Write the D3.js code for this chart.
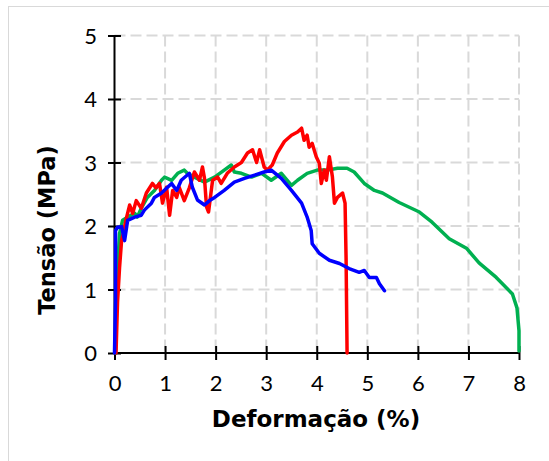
<!DOCTYPE html>
<html>
<head>
<meta charset="utf-8">
<script src="https://cdn.jsdelivr.net/npm/d3@7"></script>
<style>
  body { margin: 0; background: #fff; }
  .tick-label { font-family: "Lato", "DejaVu Sans", sans-serif; font-size: 22px; fill: #000; }
  .axis-title { font-family: "DejaVu Sans", sans-serif; font-size: 23px; font-weight: bold; fill: #000; }
</style>
</head>
<body>
<div id="chart"></div>
<script>
var xTicks = [0, 1, 2, 3, 4, 5, 6, 7, 8];
var yTicks = [0, 1, 2, 3, 4, 5];

// deformation (%) / stress (MPa)
var redX = [0.03, 0.06, 0.1, 0.14, 0.24, 0.3, 0.36, 0.43, 0.53, 0.63, 0.75, 0.82, 0.89, 0.95, 1.03, 1.09, 1.15, 1.23, 1.28, 1.38, 1.48, 1.58, 1.68, 1.74, 1.78, 1.82, 1.86, 1.94, 2.04, 2.11, 2.23, 2.37, 2.51, 2.63, 2.73, 2.81, 2.87, 2.96, 3.02, 3.12, 3.22, 3.36, 3.5, 3.62, 3.7, 3.75, 3.81, 3.85, 3.91, 3.99, 4.05, 4.09, 4.15, 4.19, 4.25, 4.31, 4.35, 4.41, 4.51, 4.56, 4.58, 4.6];
var redY = [0, 0.8, 1.35, 1.77, 2.14, 2.33, 2.2, 2.4, 2.28, 2.52, 2.67, 2.6, 2.67, 2.36, 2.61, 2.17, 2.56, 2.45, 2.61, 2.4, 2.6, 2.85, 2.72, 2.93, 2.75, 2.3, 2.22, 2.72, 2.77, 2.67, 2.83, 2.93, 3.0, 3.15, 3.2, 3.0, 3.2, 2.93, 2.88, 2.96, 3.15, 3.33, 3.43, 3.48, 3.54, 3.35, 3.43, 3.24, 3.3, 3.09, 2.99, 2.67, 2.88, 2.72, 3.09, 2.77, 2.36, 2.45, 2.52, 2.36, 1.5, 0];

var greenX = [0.02, 0.05, 0.1, 0.16, 0.26, 0.4, 0.45, 0.53, 0.65, 0.79, 0.93, 0.99, 1.13, 1.25, 1.38, 1.44, 1.58, 1.78, 1.98, 2.17, 2.31, 2.37, 2.51, 2.71, 2.91, 3.1, 3.3, 3.5, 3.62, 3.81, 4.01, 4.21, 4.41, 4.6, 4.74, 4.94, 5.14, 5.3, 5.63, 6.03, 6.28, 6.62, 6.96, 7.21, 7.55, 7.87, 7.96, 8.0, 8.0];
var greenY = [0, 1.2, 1.88, 2.09, 2.14, 2.2, 2.14, 2.28, 2.45, 2.56, 2.72, 2.77, 2.72, 2.83, 2.88, 2.83, 2.77, 2.69, 2.77, 2.88, 2.96, 2.85, 2.83, 2.77, 2.83, 2.72, 2.83, 2.64, 2.72, 2.83, 2.88, 2.88, 2.91, 2.91, 2.85, 2.67, 2.56, 2.52, 2.37, 2.22, 2.06, 1.8, 1.65, 1.42, 1.19, 0.93, 0.71, 0.35, 0.03];

var blueX = [0, 0.02, 0.02, 0.06, 0.14, 0.2, 0.26, 0.4, 0.53, 0.59, 0.73, 0.79, 0.93, 1.05, 1.13, 1.23, 1.32, 1.48, 1.54, 1.64, 1.78, 1.88, 1.98, 2.17, 2.37, 2.57, 2.77, 2.96, 3.1, 3.3, 3.5, 3.7, 3.81, 3.89, 3.91, 4.05, 4.25, 4.45, 4.64, 4.84, 4.94, 5.04, 5.18, 5.24, 5.34];
var blueY = [0, 0.82, 1.93, 1.98, 1.99, 1.77, 2.09, 2.14, 2.17, 2.25, 2.36, 2.45, 2.52, 2.61, 2.67, 2.56, 2.72, 2.83, 2.61, 2.41, 2.33, 2.4, 2.45, 2.56, 2.69, 2.75, 2.8, 2.85, 2.88, 2.75, 2.56, 2.36, 2.14, 1.93, 1.72, 1.57, 1.46, 1.41, 1.33, 1.27, 1.3, 1.19, 1.19, 1.09, 0.98];

var series = [
  { xs: greenX, ys: greenY, color: "#00b050" },
  { xs: redX, ys: redY, color: "#ff0000" },
  { xs: blueX, ys: blueY, color: "#0000ff" }
];

var svg = d3.select("#chart").append("svg")
  .attr("width", 549)
  .attr("height", 461);

// outer frame
svg.append("rect")
  .attr("x", 8.5).attr("y", 6.5)
  .attr("width", 600).attr("height", 600)
  .attr("fill", "none")
  .attr("stroke", "#d9d9d9")
  .attr("stroke-width", 1);

var x = d3.scaleLinear().domain([0, 8]).range([114.5, 519]);
var y = d3.scaleLinear().domain([0, 5]).range([353, 35.5]);

// gridlines
svg.append("g").selectAll("line")
  .data(xTicks.slice(1))
  .enter().append("line")
    .attr("x1", function(d) { return x(d); })
    .attr("x2", function(d) { return x(d); })
    .attr("y1", y(5))
    .attr("y2", y(0))
    .attr("stroke", "#d9d9d9")
    .attr("stroke-width", 2)
    .attr("stroke-dasharray", "11,5");

svg.append("g").selectAll("line")
  .data(yTicks.slice(1))
  .enter().append("line")
    .attr("x1", x(0))
    .attr("x2", x(8))
    .attr("y1", function(d) { return y(d); })
    .attr("y2", function(d) { return y(d); })
    .attr("stroke", "#d9d9d9")
    .attr("stroke-width", 2)
    .attr("stroke-dasharray", "11,5");

// axes
var xAxis = d3.axisBottom(x).tickValues(xTicks).tickFormat(d3.format("d"))
  .tickSizeInner(14).tickSizeOuter(0);
var gx = svg.append("g")
  .attr("transform", "translate(0," + (y(0) - 7) + ")")
  .call(xAxis);
gx.select(".domain").remove();
gx.attr("font-size", null).attr("font-family", null);
gx.selectAll(".tick line").attr("stroke", "#000").attr("stroke-width", 2);
gx.selectAll(".tick text").attr("class", "tick-label").attr("y", 45).attr("dy", null);

var yAxis = d3.axisLeft(y).tickValues(yTicks).tickFormat(d3.format("d"))
  .tickSizeInner(13).tickSizeOuter(0);
var gy = svg.append("g")
  .attr("transform", "translate(" + (x(0) + 6.5) + ",0)")
  .call(yAxis);
gy.select(".domain").remove();
gy.attr("font-size", null).attr("font-family", null);
gy.selectAll(".tick line").attr("stroke", "#000").attr("stroke-width", 2);
gy.selectAll(".tick text").attr("class", "tick-label").attr("x", -24).attr("dy", "0.36em");

svg.append("line")
  .attr("x1", x(0)).attr("x2", x(8))
  .attr("y1", y(0)).attr("y2", y(0))
  .attr("stroke", "#000").attr("stroke-width", 2);
svg.append("line")
  .attr("x1", x(0)).attr("x2", x(0))
  .attr("y1", y(5)).attr("y2", y(0))
  .attr("stroke", "#000").attr("stroke-width", 2);

// curves
var line = d3.line()
  .x(function(d) { return x(d[0]); })
  .y(function(d) { return y(d[1]); });

series.forEach(function(s) {
  var pts = s.xs.map(function(v, i) { return [v, s.ys[i]]; });
  svg.append("path")
    .attr("d", line(pts))
    .attr("fill", "none")
    .attr("stroke", s.color)
    .attr("stroke-width", 3.5)
    .attr("stroke-linejoin", "round")
    .attr("stroke-linecap", "round");
});

// axis titles
svg.append("text")
  .attr("class", "axis-title")
  .attr("x", 316)
  .attr("y", 427)
  .attr("text-anchor", "middle")
  .text("Deformação (%)");

svg.append("text")
  .attr("class", "axis-title")
  .attr("transform", "translate(55,230) rotate(-90)")
  .attr("text-anchor", "middle")
  .style("font-size", "22.5px")
  .text("Tensão (MPa)");
</script>
</body>
</html>
